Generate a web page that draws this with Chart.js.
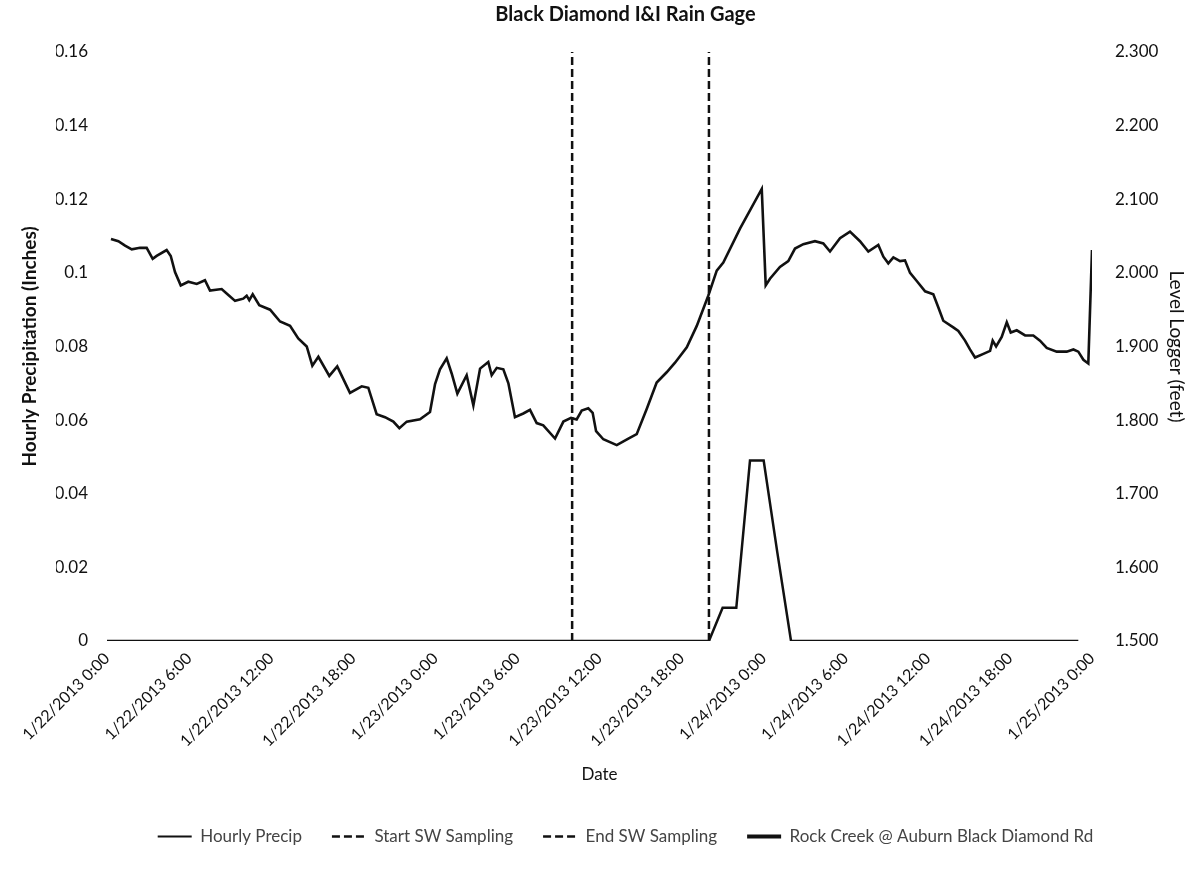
<!DOCTYPE html>
<html>
<head>
<meta charset="utf-8">
<title>Black Diamond I&amp;I Rain Gage</title>
<script src="https://cdn.jsdelivr.net/npm/chart.js@4.4.1/dist/chart.umd.min.js"></script>
<style>
  html, body { margin: 0; padding: 0; background: #fff; }
  #wrap { width: 1195px; height: 872px; }
</style>
</head>
<body>
<div id="wrap"><canvas id="rainChart" width="1195" height="872"></canvas></div>
<script>
// x axis: hours since 1/22/2013 0:00
const xTickLabels = [
  '1/22/2013 0:00', '1/22/2013 6:00', '1/22/2013 12:00', '1/22/2013 18:00',
  '1/23/2013 0:00', '1/23/2013 6:00', '1/23/2013 12:00', '1/23/2013 18:00',
  '1/24/2013 0:00', '1/24/2013 6:00', '1/24/2013 12:00', '1/24/2013 18:00',
  '1/25/2013 0:00'
];
const precipTickLabels = ['0', '0.02', '0.04', '0.06', '0.08', '0.1', '0.12', '0.14', '0.16'];
const levelTickLabels = ['1.500', '1.600', '1.700', '1.800', '1.900', '2.000', '2.100', '2.200', '2.300'];

// hourly precip (inches), one value per hour 0..71
const precipInches = [
  0, 0, 0, 0, 0, 0, 0, 0, 0, 0, 0, 0,
  0, 0, 0, 0, 0, 0, 0, 0, 0, 0, 0, 0,
  0, 0, 0, 0, 0, 0, 0, 0, 0, 0, 0, 0,
  0, 0, 0, 0, 0, 0, 0, 0, 0, 0.009, 0.009, 0.049,
  0.049, 0.024, 0, 0, 0, 0, 0, 0, 0, 0, 0, 0,
  0, 0, 0, 0, 0, 0, 0, 0, 0, 0, 0, 0
];

// sampling window (hours)
const samplingStart = 34;
const samplingEnd = 44;

// level logger readings
const levelHours = [
  0.29, 0.83, 1.32, 1.81, 2.41, 2.90, 3.34, 3.63, 4.36, 4.66,
  4.97, 5.39, 5.94, 6.56, 7.16, 7.53, 8.38, 8.87, 9.36, 9.96,
  10.21, 10.40, 10.65, 11.13, 11.92, 12.65, 13.38, 13.98, 14.60, 15.01,
  15.45, 16.25, 16.83, 17.76, 18.62, 19.10, 19.71, 20.32, 20.93, 21.37,
  21.91, 22.88, 23.61, 23.98, 24.34, 24.83, 25.20, 25.61, 26.29, 26.78,
  27.27, 27.87, 28.12, 28.49, 28.97, 29.34, 29.82, 30.43, 30.92, 31.41,
  31.89, 32.75, 33.36, 33.92, 34.33, 34.70, 35.18, 35.50, 35.75, 36.28,
  37.26, 38.11, 38.72, 39.45, 40.18, 40.91, 41.52, 42.38, 43.11, 43.95,
  44.57, 45.05, 46.27, 47.86, 48.15, 48.46, 49.19, 49.80, 50.29, 50.90,
  51.75, 52.36, 52.85, 53.58, 54.31, 55.04, 55.65, 56.38, 56.75, 57.11,
  57.48, 57.97, 58.33, 58.70, 59.19, 59.80, 60.40, 60.77, 61.13, 61.86,
  62.23, 62.72, 63.08, 63.45, 64.06, 64.55, 64.74, 64.99, 65.40, 65.77,
  66.06, 66.50, 67.11, 67.71, 68.20, 68.69, 69.42, 70.15, 70.64, 71.00,
  71.37, 71.73, 72.00
];
const levelFeet = [
  2.046, 2.043, 2.037, 2.032, 2.034, 2.034, 2.019, 2.023, 2.031, 2.023,
  2.001, 1.983, 1.988, 1.985, 1.990, 1.976, 1.978, 1.970, 1.962, 1.965,
  1.969, 1.963, 1.971, 1.956, 1.950, 1.934, 1.928, 1.911, 1.900, 1.874,
  1.886, 1.860, 1.873, 1.837, 1.846, 1.844, 1.808, 1.804, 1.798, 1.789,
  1.798, 1.801, 1.811, 1.849, 1.869, 1.884, 1.863, 1.836, 1.861, 1.820,
  1.870, 1.879, 1.861, 1.871, 1.869, 1.850, 1.804, 1.809, 1.814, 1.796,
  1.793, 1.775, 1.798, 1.803, 1.801, 1.813, 1.816, 1.810, 1.785, 1.774,
  1.766, 1.775, 1.781, 1.815, 1.851, 1.865, 1.878, 1.899, 1.928, 1.969,
  2.003, 2.014, 2.060, 2.114, 1.983, 1.992, 2.008, 2.016, 2.033, 2.039,
  2.043, 2.040, 2.029, 2.047, 2.056, 2.043, 2.029, 2.038, 2.022, 2.013,
  2.021, 2.016, 2.017, 2.000, 1.989, 1.975, 1.971, 1.953, 1.935, 1.926,
  1.921, 1.908, 1.896, 1.885, 1.890, 1.894, 1.908, 1.900, 1.913, 1.933,
  1.919, 1.922, 1.915, 1.915, 1.908, 1.898, 1.893, 1.893, 1.896, 1.893,
  1.882, 1.877, 2.031
];

const precipPoints = precipInches.map((v, i) => ({ x: i, y: v }));
const levelPoints = levelHours.map((h, i) => ({ x: h, y: levelFeet[i] }));

Chart.defaults.font.family = 'Lato, "Open Sans", sans-serif';
Chart.defaults.color = '#111';

// legend samples: keep each dataset's dash and width
function legendLabels(chart) {
  const items = Chart.defaults.plugins.legend.labels.generateLabels(chart);
  items.forEach((item, i) => {
    const ds = chart.data.datasets[i];
    item.lineDash = ds.borderDash || [];
    item.lineWidth = ds.legendWidth || ds.borderWidth;
    item.strokeStyle = ds.borderColor;
  });
  return items;
}

new Chart(document.getElementById('rainChart').getContext('2d'), {
  type: 'line',
  data: {
    datasets: [
      {
        label: 'Hourly Precip',
        data: precipPoints,
        yAxisID: 'y',
        borderColor: '#111',
        borderWidth: 2.5,
        legendWidth: 2,
        pointRadius: 0,
        pointStyle: 'line',
        tension: 0
      },
      {
        label: 'Start SW Sampling',
        data: [{ x: samplingStart, y: 0 }, { x: samplingStart, y: 0.16 }],
        yAxisID: 'y',
        borderColor: '#111',
        borderWidth: 2.5,
        borderDash: [8, 4],
        pointRadius: 0,
        pointStyle: 'line'
      },
      {
        label: 'End SW Sampling',
        data: [{ x: samplingEnd, y: 0 }, { x: samplingEnd, y: 0.16 }],
        yAxisID: 'y',
        borderColor: '#111',
        borderWidth: 2.5,
        borderDash: [8, 4],
        pointRadius: 0,
        pointStyle: 'line'
      },
      {
        label: 'Rock Creek @ Auburn Black Diamond Rd',
        data: levelPoints,
        yAxisID: 'y1',
        borderColor: '#111',
        borderWidth: 2.6,
        legendWidth: 4,
        pointRadius: 0,
        pointStyle: 'line',
        tension: 0
      }
    ]
  },
  options: {
    responsive: false,
    devicePixelRatio: 1,
    animation: false,
    // extra left padding puts title and legend centre where the original had them
    layout: { padding: { left: 56, bottom: 17 } },
    plugins: {
      title: {
        display: true,
        text: 'Black Diamond I&I Rain Gage',
        font: { size: 20, weight: 'bold' },
        color: '#111',
        padding: { top: 3, bottom: 25 }
      },
      legend: {
        position: 'bottom',
        labels: {
          usePointStyle: true,
          pointStyleWidth: 34,
          padding: 30,
          color: '#444',
          font: { size: 17 },
          generateLabels: legendLabels
        }
      },
      tooltip: { enabled: false }
    },
    scales: {
      x: {
        type: 'linear',
        min: 0,
        max: 72,
        grid: { display: false, drawTicks: false },
        border: { display: false },
        ticks: {
          stepSize: 6,
          minRotation: 45,
          maxRotation: 45,
          padding: 8,
          font: { size: 16 },
          color: '#111',
          callback: (v) => xTickLabels[Math.round(v / 6)]
        },
        title: {
          display: true,
          text: 'Date',
          font: { size: 17 },
          color: '#111',
          padding: { top: 0, bottom: 13 }
        },
        afterFit: (scale) => { scale.height = 157; }
      },
      y: {
        position: 'left',
        min: 0,
        max: 0.16,
        grid: { display: false, drawTicks: false },
        border: { display: false },
        ticks: {
          stepSize: 0.02,
          padding: 19,
          font: { size: 17 },
          color: '#111',
          callback: (v, i) => precipTickLabels[i]
        },
        title: {
          display: true,
          text: 'Hourly Precipitation (Inches)',
          font: { size: 19, weight: 'bold' },
          color: '#111',
          padding: { top: -38, bottom: 0 }
        },
        afterFit: (scale) => { scale.width = 51; }
      },
      y1: {
        position: 'right',
        min: 1.5,
        max: 2.3,
        grid: { display: false, drawTicks: false },
        border: { display: false },
        ticks: {
          stepSize: 0.1,
          padding: 23,
          font: { size: 17 },
          color: '#111',
          callback: (v, i) => levelTickLabels[i]
        },
        title: {
          display: true,
          text: 'Level Logger (feet)',
          font: { size: 19 },
          color: '#111',
          padding: { top: 7, bottom: 0 }
        },
        afterFit: (scale) => { scale.width = 103; }
      }
    }
  }
});
</script>
</body>
</html>
